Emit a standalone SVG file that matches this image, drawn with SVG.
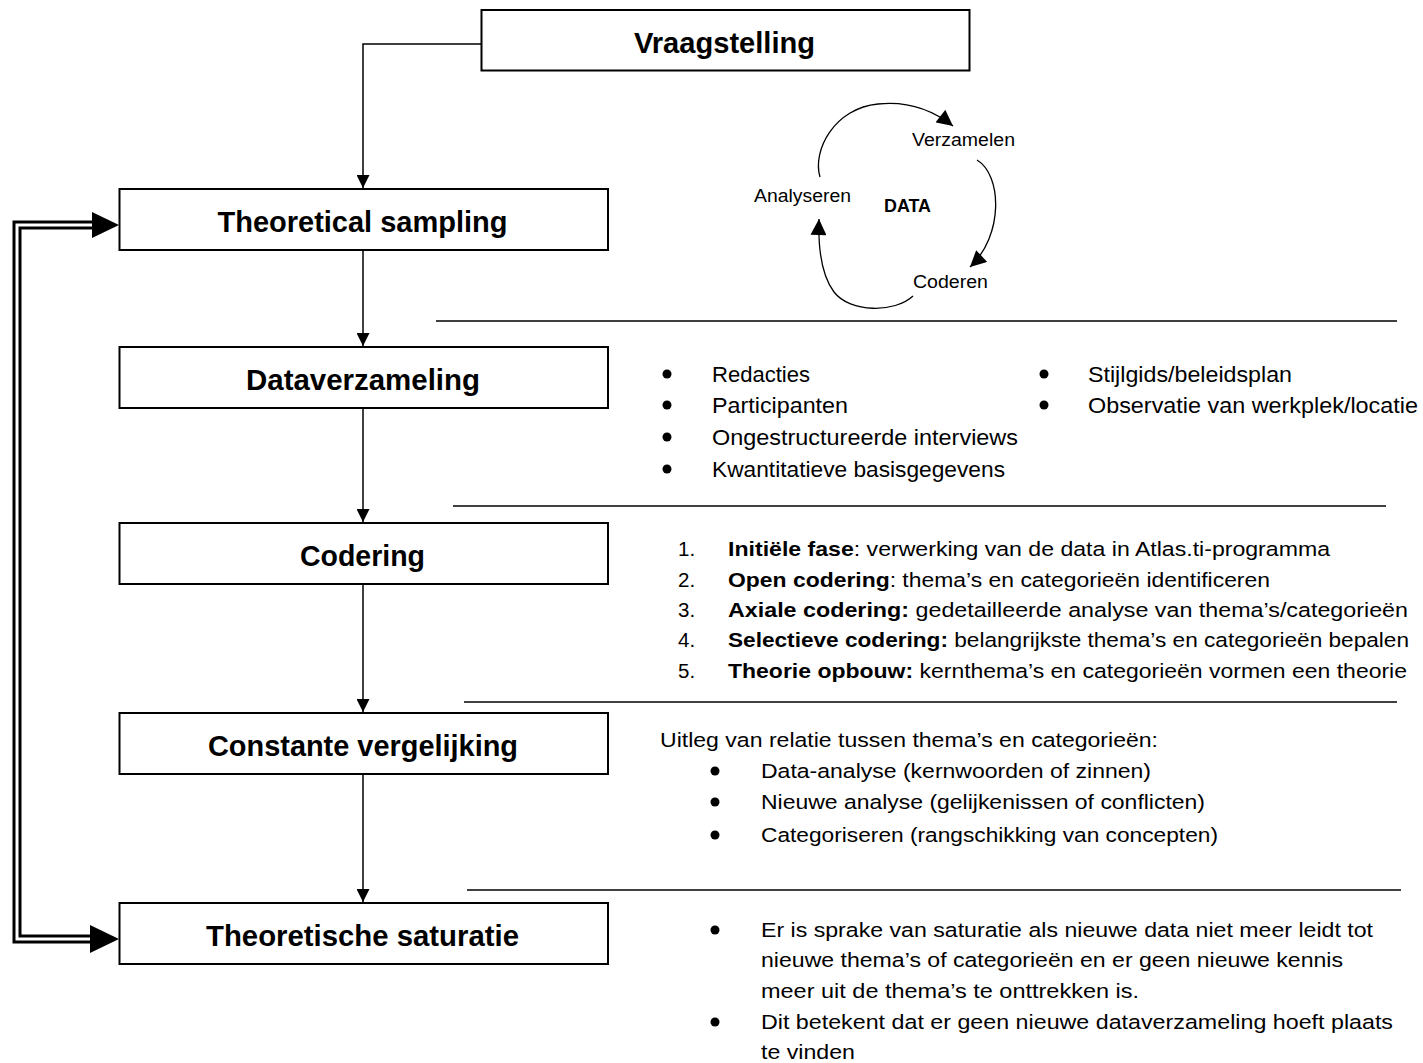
<svg xmlns="http://www.w3.org/2000/svg" width="1423" height="1063" viewBox="0 0 1423 1063">
<style>
.box{fill:#fff;stroke:#000;stroke-width:2}
.title{font-family:"Liberation Sans",Arial,sans-serif;font-weight:bold;font-size:29px;fill:#000}
.t{font-family:"Liberation Sans",Arial,sans-serif;font-size:22.5px;fill:#000}
.s{font-family:"Liberation Sans",Arial,sans-serif;font-size:20.5px;fill:#000}
.c{font-family:"Liberation Sans",Arial,sans-serif;font-size:17.5px;fill:#000}
.b{font-weight:bold}
.ln{fill:none;stroke:#000;stroke-width:1.5}
.sep{stroke:#000;stroke-width:1.5}
.cyc{fill:none;stroke:#000;stroke-width:1.3}
</style>
<defs>
<marker id="arr" viewBox="0 0 10 10" refX="10" refY="5" markerUnits="userSpaceOnUse" markerWidth="13" markerHeight="13" orient="auto">
<path d="M0,0 L10,5 L0,10 Z" fill="#000"/>
</marker>
<marker id="carr" viewBox="0 0 10 10" refX="10" refY="5" markerUnits="userSpaceOnUse" markerWidth="17" markerHeight="16" orient="auto">
<path d="M0,0 L10,5 L0,10 Z" fill="#000"/>
</marker>
</defs>

<g id="connectors">
<path class="ln" d="M481,44 H363 V188" marker-end="url(#arr)"/>
<path class="ln" d="M363,251 V346" marker-end="url(#arr)"/>
<path class="ln" d="M363,409 V522" marker-end="url(#arr)"/>
<path class="ln" d="M363,585 V712" marker-end="url(#arr)"/>
<path class="ln" d="M363,775 V902" marker-end="url(#arr)"/>
<path d="M93,225 H17 V939 H91" fill="none" stroke="#000" stroke-width="9"/>
<path d="M94,225 H17 V939 H92" fill="none" stroke="#fff" stroke-width="3"/>
<polygon points="92,212 119,225 92,238" fill="#000"/>
<polygon points="90,925 119,939 90,953" fill="#000"/>
</g>

<g id="vraagstelling">
<rect class="box" x="481.5" y="10" width="488" height="60.5"/>
<text class="title" x="724.5" y="52.5" text-anchor="middle" textLength="181" lengthAdjust="spacingAndGlyphs">Vraagstelling</text>
</g>
<g id="theoretical-sampling">
<rect class="box" x="119.5" y="189" width="488.5" height="61"/>
<text class="title" x="362.5" y="232" text-anchor="middle" textLength="290" lengthAdjust="spacingAndGlyphs">Theoretical sampling</text>
</g>
<g id="dataverzameling">
<rect class="box" x="119.5" y="347" width="488.5" height="61"/>
<text class="title" x="363" y="390" text-anchor="middle" textLength="234" lengthAdjust="spacingAndGlyphs">Dataverzameling</text>
</g>
<g id="codering">
<rect class="box" x="119.5" y="523" width="488.5" height="61"/>
<text class="title" x="362.5" y="566" text-anchor="middle" textLength="125" lengthAdjust="spacingAndGlyphs">Codering</text>
</g>
<g id="constante-vergelijking">
<rect class="box" x="119.5" y="713" width="488.5" height="61"/>
<text class="title" x="363" y="756" text-anchor="middle" textLength="310" lengthAdjust="spacingAndGlyphs">Constante vergelijking</text>
</g>
<g id="theoretische-saturatie">
<rect class="box" x="119.5" y="903" width="488.5" height="61"/>
<text class="title" x="362.5" y="946" text-anchor="middle" textLength="313" lengthAdjust="spacingAndGlyphs">Theoretische saturatie</text>
</g>

<g id="data-cycle">
<path class="cyc" d="M820,177 C812,150 835,108 878,104 C905,101 930,108 953,126" marker-end="url(#carr)"/>
<path class="cyc" d="M977,160 C1002,175 1004,235 970,267" marker-end="url(#carr)"/>
<path class="cyc" d="M913,296 C895,313 850,313 834,292 C822,276 818,250 819,219" marker-end="url(#carr)"/>
<text class="c" x="912" y="146" textLength="103" lengthAdjust="spacingAndGlyphs">Verzamelen</text>
<text class="c" x="754" y="202" textLength="97" lengthAdjust="spacingAndGlyphs">Analyseren</text>
<text class="c b" x="884" y="212" font-size="16.5" textLength="47" lengthAdjust="spacingAndGlyphs">DATA</text>
<text class="c" x="913" y="288" textLength="75" lengthAdjust="spacingAndGlyphs">Coderen</text>
</g>

<g id="separators">
<line class="sep" x1="436" y1="321" x2="1397" y2="321"/>
<line class="sep" x1="453" y1="506" x2="1386" y2="506"/>
<line class="sep" x1="464" y1="702" x2="1397" y2="702"/>
<line class="sep" x1="467" y1="890" x2="1401" y2="890"/>
</g>

<g id="data-list">
<circle cx="667" cy="374" r="4.5"/>
<circle cx="667" cy="405" r="4.5"/>
<circle cx="667" cy="437" r="4.5"/>
<circle cx="667" cy="469" r="4.5"/>
<circle cx="1044" cy="374" r="4.5"/>
<circle cx="1044" cy="405" r="4.5"/>
<text class="t" x="712" y="382" textLength="98" lengthAdjust="spacingAndGlyphs">Redacties</text>
<text class="t" x="712" y="413" textLength="136" lengthAdjust="spacingAndGlyphs">Participanten</text>
<text class="t" x="712" y="445" textLength="306" lengthAdjust="spacingAndGlyphs">Ongestructureerde interviews</text>
<text class="t" x="712" y="477" textLength="293" lengthAdjust="spacingAndGlyphs">Kwantitatieve basisgegevens</text>
<text class="t" x="1088" y="382" textLength="204" lengthAdjust="spacingAndGlyphs">Stijlgids/beleidsplan</text>
<text class="t" x="1088" y="413" textLength="330" lengthAdjust="spacingAndGlyphs">Observatie van werkplek/locatie</text>
</g>

<g id="codering-list">
<text class="s" x="678" y="556">1.</text>
<text class="s" x="678" y="587">2.</text>
<text class="s" x="678" y="617">3.</text>
<text class="s" x="678" y="647">4.</text>
<text class="s" x="678" y="678">5.</text>
<text class="s" x="728" y="556" textLength="602" lengthAdjust="spacingAndGlyphs"><tspan class="b">Initiële fase</tspan>: verwerking van de data in Atlas.ti-programma</text>
<text class="s" x="728" y="587" textLength="542" lengthAdjust="spacingAndGlyphs"><tspan class="b">Open codering</tspan>: thema’s en categorieën identificeren</text>
<text class="s" x="728" y="617" textLength="680" lengthAdjust="spacingAndGlyphs"><tspan class="b">Axiale codering:</tspan> gedetailleerde analyse van thema’s/categorieën</text>
<text class="s" x="728" y="647" textLength="681" lengthAdjust="spacingAndGlyphs"><tspan class="b">Selectieve codering:</tspan> belangrijkste thema’s en categorieën bepalen</text>
<text class="s" x="728" y="678" textLength="679" lengthAdjust="spacingAndGlyphs"><tspan class="b">Theorie opbouw:</tspan> kernthema’s en categorieën vormen een theorie</text>
</g>

<g id="constante-list">
<text class="s" x="660" y="747" font-size="21.5" textLength="498" lengthAdjust="spacingAndGlyphs">Uitleg van relatie tussen thema’s en categorieën:</text>
<circle cx="715" cy="771" r="4.5"/>
<circle cx="715" cy="802" r="4.5"/>
<circle cx="715" cy="835" r="4.5"/>
<text class="s" x="761" y="778" font-size="21.5" textLength="390" lengthAdjust="spacingAndGlyphs">Data-analyse (kernwoorden of zinnen)</text>
<text class="s" x="761" y="809" font-size="21.5" textLength="444" lengthAdjust="spacingAndGlyphs">Nieuwe analyse (gelijkenissen of conflicten)</text>
<text class="s" x="761" y="842" font-size="21.5" textLength="457" lengthAdjust="spacingAndGlyphs">Categoriseren (rangschikking van concepten)</text>
</g>

<g id="saturatie-list">
<circle cx="715" cy="930" r="4.5"/>
<circle cx="715" cy="1022" r="4.5"/>
<text class="s" x="761" y="937" font-size="21.5" textLength="612" lengthAdjust="spacingAndGlyphs">Er is sprake van saturatie als nieuwe data niet meer leidt tot</text>
<text class="s" x="761" y="967" font-size="21.5" textLength="582" lengthAdjust="spacingAndGlyphs">nieuwe thema’s of categorieën en er geen nieuwe kennis</text>
<text class="s" x="761" y="998" font-size="21.5" textLength="378" lengthAdjust="spacingAndGlyphs">meer uit de thema’s te onttrekken is.</text>
<text class="s" x="761" y="1029" font-size="21.5" textLength="632" lengthAdjust="spacingAndGlyphs">Dit betekent dat er geen nieuwe dataverzameling hoeft plaats</text>
<text class="s" x="761" y="1059" font-size="21.5" textLength="94" lengthAdjust="spacingAndGlyphs">te vinden</text>
</g>
</svg>
